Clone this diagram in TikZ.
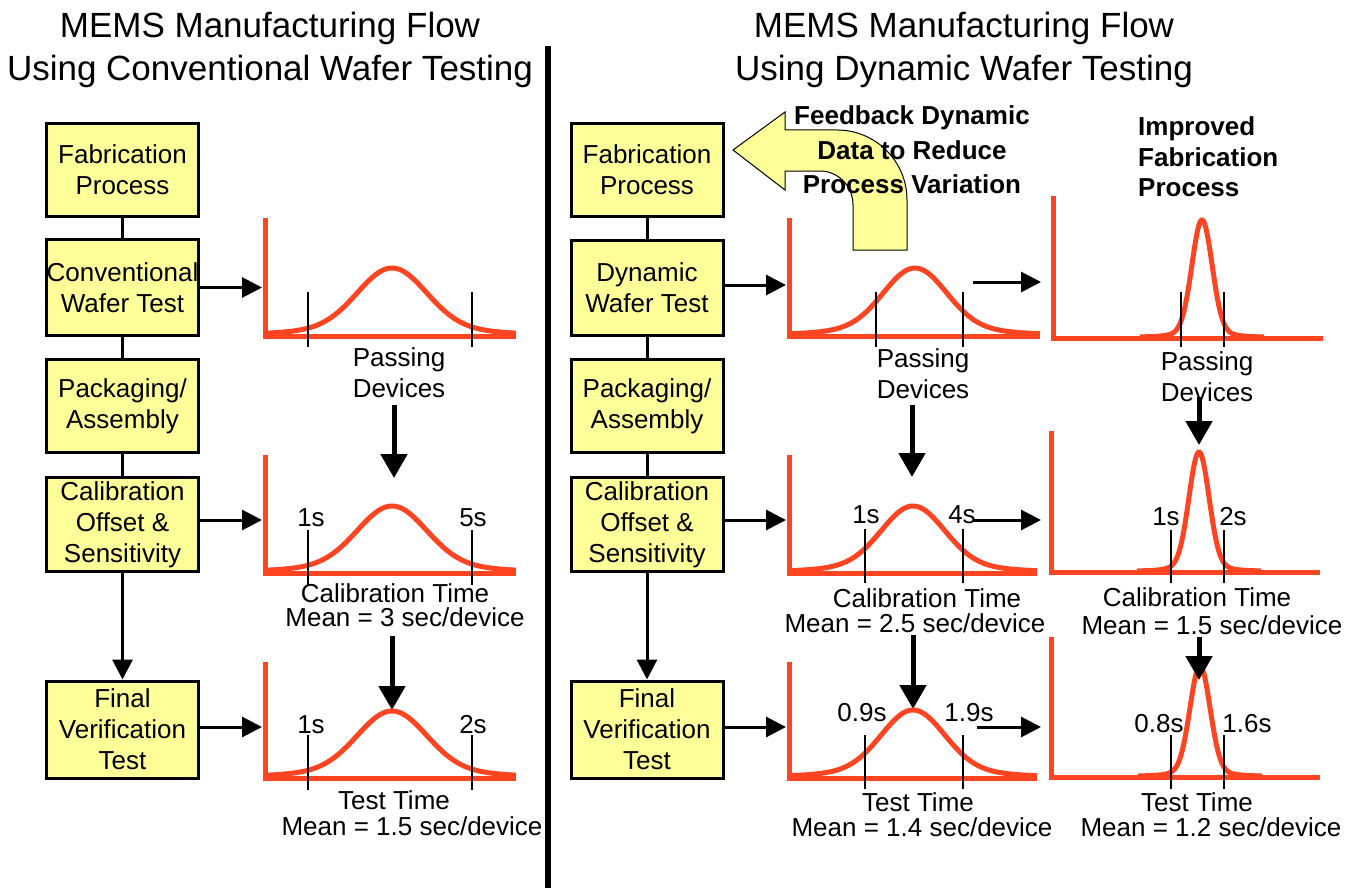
\documentclass[tikz,border=0pt]{standalone}
\usepackage{fontspec}
\setmainfont{Liberation Sans}
\usetikzlibrary{arrows.meta}
\definecolor{boxyellow}{HTML}{FFFF99}
\definecolor{plotred}{HTML}{FF4422}
% #1 mu, #2 base, #3 height, #4 sigma1, #5 sigma2, #6 weight2, #7 from, #8 to
\newcommand{\bellcurve}[8]{%
  \draw[curveline] plot[domain=#7:#8, samples=150, smooth]
    (\x, {#2 - #3*((1-#6)*exp(-min(((\x-#1)/#4)^2/2,9)) + #6*exp(-min(((\x-#1)/#5)^2/2,9)))});
}
\begin{document}
\begin{tikzpicture}[x=1pt,y=-1pt,
  procbox/.style={draw=black, line width=3pt, fill=boxyellow, minimum width=152pt, inner sep=0pt, align=center, font=\fontsize{26}{31}\selectfont},
  lbl/.style={inner sep=0pt, font=\fontsize{26}{31}\selectfont, align=center},
  titlelbl/.style={inner sep=0pt, font=\fontsize{35}{43}\selectfont, align=center},
  boldlbl/.style={inner sep=0pt, font=\bfseries\fontsize{26}{34.5}\selectfont, align=center},
  boldleft/.style={inner sep=0pt, font=\bfseries\fontsize{26}{30.5}\selectfont, align=left},
  axisline/.style={draw=plotred, line width=5pt, line join=miter},
  curveline/.style={draw=plotred, line width=5pt},
  tickline/.style={draw=black, line width=1.2pt},
  link/.style={draw=black, line width=3pt},
  linkarrow/.style={draw=black, line width=3pt, -{Triangle[length=20pt,width=20pt]}},
  bigarrow/.style={draw=black, line width=5pt, -{Triangle[length=24pt,width=26pt]}},
  feedback/.style={draw=black, line width=1pt, fill=boxyellow, line join=miter}]
\useasboundingbox (0,0) rectangle (1359,888);
\fill[white] (0,0) rectangle (1359,888);

% titles
\node[titlelbl] (ltitle) at (270,50) {MEMS Manufacturing Flow\\Using Conventional Wafer Testing};
\node[titlelbl] (rtitle) at (964,50) {MEMS Manufacturing Flow\\Using Dynamic Wafer Testing};

% divider
\coordinate (divtop) at (548,46);
\coordinate (divbot) at (548,888);
\draw[line width=6pt] (divtop) -- (divbot);

% ---------------- left column boxes
\node[procbox, minimum height=93pt] (lfab) at (122.5,170) {Fabrication\\Process};
\node[procbox, minimum height=96pt] (lconv) at (122.5,287.5) {Conventional\\Wafer Test};
\node[procbox, minimum height=93pt] (lpack) at (122.5,406) {Packaging/\\Assembly};
\node[procbox, minimum height=94pt] (lcal) at (122.5,524.5) {Calibration\\Offset \&\\Sensitivity};
\node[procbox, minimum height=97pt] (lfin) at (122.5,729.5) {Final\\Verification\\Test};
\draw[link] (lfab) -- (lconv);
\draw[link] (lconv) -- (lpack);
\draw[link] (lpack) -- (lcal);
\draw[linkarrow] (lcal) -- (lfin);

% ---------------- right column boxes
\node[procbox, minimum height=93pt] (rfab) at (647,170) {Fabrication\\Process};
\node[procbox, minimum height=95pt] (rdyn) at (647,288) {Dynamic\\Wafer Test};
\node[procbox, minimum height=93pt] (rpack) at (647,406) {Packaging/\\Assembly};
\node[procbox, minimum height=94pt] (rcal) at (647,524.5) {Calibration\\Offset \&\\Sensitivity};
\node[procbox, minimum height=97pt] (rfin) at (647,729.5) {Final\\Verification\\Test};
\draw[link] (rfab) -- (rdyn);
\draw[link] (rdyn) -- (rpack);
\draw[link] (rpack) -- (rcal);
\draw[linkarrow] (rcal) -- (rfin);

% ---------------- left graphs
% top
\draw[axisline] (265,218) -- (265,336) -- (516,336);
\bellcurve{392}{335}{67}{34}{72}{0.12}{268}{516}
\draw[tickline] (308,292) -- (308,347);
\draw[tickline] (472,292) -- (472,347);
\coordinate (lax1) at (262,0);
\draw[linkarrow] (lconv.east) -- (lconv.east -| lax1);
\node[lbl] (lpass) at (399,373) {Passing\\Devices};
\coordinate (la1s) at (394,405);
\coordinate (la1e) at (394,478);
\draw[bigarrow] (la1s) -- (la1e);
% calibration
\draw[axisline] (265,455) -- (265,573) -- (516,573);
\bellcurve{392}{572}{66}{34}{72}{0.12}{268}{516}
\draw[tickline] (308,530) -- (308,585);
\draw[tickline] (472,530) -- (472,585);
\node[lbl] (l1s) at (311,518) {1s};
\node[lbl] (l5s) at (473,518) {5s};
\draw[linkarrow] (lcal.east |- 0,520) -- (lax1 |- 0,520);
\node[lbl] (lcaltime) at (395,593) {Calibration Time};
\node[lbl] (lcalmean) at (405,617) {Mean = 3 sec/device};
\coordinate (la2s) at (392,636);
\coordinate (la2e) at (392,710);
\draw[bigarrow] (la2s) -- (la2e);
% test
\draw[axisline] (265,662) -- (265,778) -- (516,778);
\bellcurve{392}{777}{66}{34}{72}{0.12}{268}{516}
\draw[tickline] (308,735) -- (308,790);
\draw[tickline] (472,735) -- (472,790);
\node[lbl] (l1s2) at (311,725) {1s};
\node[lbl] (l2s) at (473,725) {2s};
\draw[linkarrow] (lfin.east |- 0,727) -- (lax1 |- 0,727);
\node[lbl] (ltesttime) at (394,800) {Test Time};
\node[lbl] (ltestmean) at (412,826) {Mean = 1.5 sec/device};

% ---------------- feedback arrow
\path[feedback] (733,150) -- (785,112) -- (785,130) -- (837,130)
  .. controls (875.7,130) and (907,161.3) .. (907,200) -- (907,250) -- (853,250) -- (853,205)
  .. controls (853,186.2) and (838.2,171) .. (820,171) -- (785,171) -- (785,190) -- cycle;
\node[boldlbl] (fbtext) at (912,150) {Feedback Dynamic\\Data to Reduce\\Process Variation};
\node[boldleft, anchor=west] (imptext) at (1138,157) {Improved\\Fabrication\\Process};

% ---------------- middle graphs
\coordinate (max1) at (786,0);
\coordinate (rax1) at (1041,0);
% top
\draw[axisline] (789,218) -- (789,336) -- (1040,336);
\bellcurve{915}{335}{67}{31}{65}{0.12}{792}{1040}
\draw[tickline] (876,292) -- (876,347);
\draw[tickline] (963,292) -- (963,347);
\draw[linkarrow] (rdyn.east |- 0,285) -- (max1 |- 0,285);
\node[lbl] (mpass) at (923,374) {Passing\\Devices};
\coordinate (mh1s) at (973,282);
\coordinate (mh1e) at (1041,282);
\draw[linkarrow] (mh1s) -- (mh1e);
\coordinate (ma1s) at (912,405);
\coordinate (ma1e) at (912,477);
\draw[bigarrow] (ma1s) -- (ma1e);
% calibration
\draw[axisline] (789,455) -- (789,573) -- (1037,573);
\bellcurve{913}{572}{66}{31}{65}{0.12}{792}{1037}
\draw[tickline] (865,529) -- (865,583);
\draw[tickline] (963,529) -- (963,583);
\node[lbl] (m1s) at (866,515) {1s};
\node[lbl] (m4s) at (962,515) {4s};
\draw[linkarrow] (rcal.east |- 0,520) -- (max1 |- 0,520);
\coordinate (mh2s) at (973,520);
\coordinate (mh2e) at (1041,520);
\draw[linkarrow] (mh2s) -- (mh2e);
\node[lbl] (mcaltime) at (927,598) {Calibration Time};
\node[lbl] (mcalmean) at (915,623) {Mean = 2.5 sec/device};
\coordinate (ma2s) at (913,635);
\coordinate (ma2e) at (913,709);
\draw[bigarrow] (ma2s) -- (ma2e);
% test
\draw[axisline] (789,662) -- (789,778) -- (1037,778);
\bellcurve{913}{777}{67}{31}{65}{0.12}{792}{1037}
\draw[tickline] (865,735) -- (865,789);
\draw[tickline] (963,735) -- (963,789);
\node[lbl] (m09s) at (862,713) {0.9s};
\node[lbl] (m19s) at (969,713) {1.9s};
\draw[linkarrow] (rfin.east |- 0,727) -- (max1 |- 0,727);
\coordinate (mh3s) at (977,727);
\coordinate (mh3e) at (1041,727);
\draw[linkarrow] (mh3s) -- (mh3e);
\node[lbl] (mtesttime) at (918,802) {Test Time};
\node[lbl] (mtestmean) at (922,827) {Mean = 1.4 sec/device};

% ---------------- right graphs
% top
\draw[axisline] (1053,196) -- (1053,338) -- (1323,338);
\bellcurve{1202}{337}{117}{10}{22}{0.05}{1140}{1264}
\draw[tickline] (1181,292) -- (1181,347);
\draw[tickline] (1224,292) -- (1224,347);
\node[lbl] (rpass) at (1207,377) {Passing\\Devices};
\coordinate (ra1s) at (1199,397);
\coordinate (ra1e) at (1199,445);
\draw[bigarrow] (ra1s) -- (ra1e);
% calibration
\draw[axisline] (1051,431) -- (1051,572) -- (1320,572);
\bellcurve{1199}{571}{119}{10}{22}{0.05}{1137}{1261}
\draw[tickline] (1171,530) -- (1171,583);
\draw[tickline] (1224,530) -- (1224,583);
\node[lbl] (r1s) at (1166,517) {1s};
\node[lbl] (r2s) at (1233,517) {2s};
\node[lbl] (rcaltime) at (1197,597) {Calibration Time};
\node[lbl] (rcalmean) at (1212,625) {Mean = 1.5 sec/device};
\coordinate (ra2s) at (1199,637);
\coordinate (ra2e) at (1199,680);
% test
\draw[axisline] (1051,637) -- (1051,777) -- (1320,777);
\bellcurve{1200}{776}{110}{10}{22}{0.05}{1138}{1262}
\draw[tickline] (1171,735) -- (1171,789);
\draw[tickline] (1224,735) -- (1224,789);
\node[lbl] (r08s) at (1159,724) {0.8s};
\node[lbl] (r16s) at (1247,724) {1.6s};
\node[lbl] (rtesttime) at (1197,802) {Test Time};
\node[lbl] (rtestmean) at (1211,827) {Mean = 1.2 sec/device};
\draw[bigarrow] (ra2s) -- (ra2e);
\end{tikzpicture}
\end{document}
